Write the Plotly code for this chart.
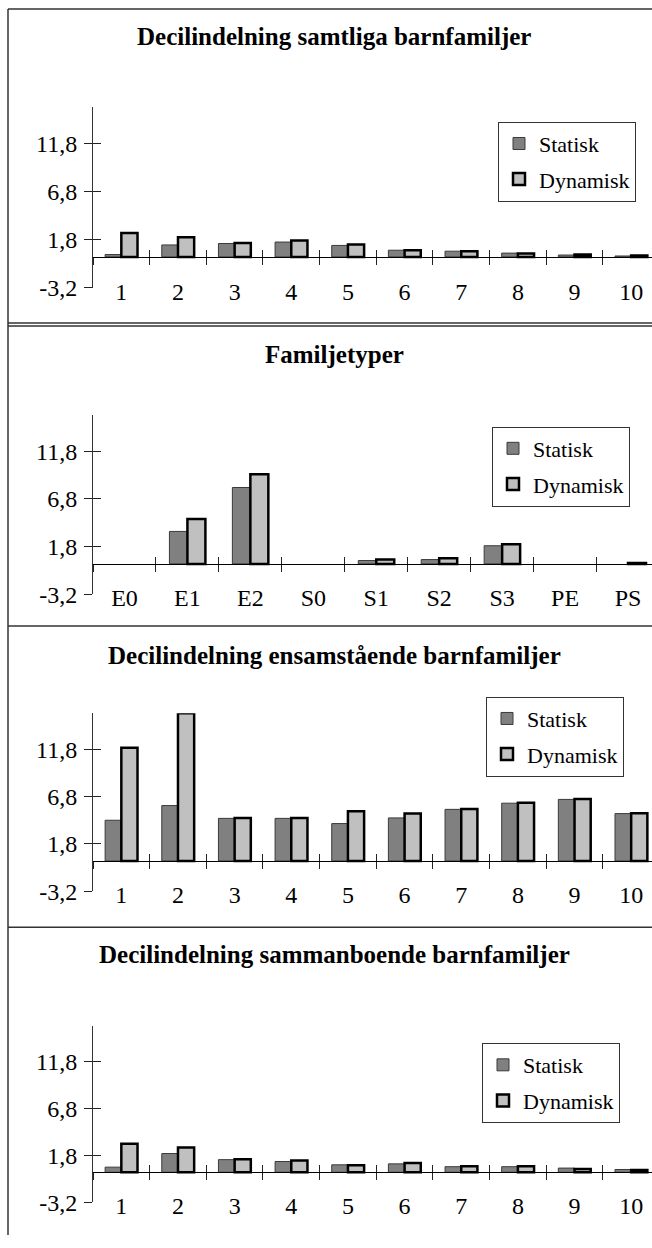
import plotly.graph_objects as go

W, H = 652, 1248

deciles = ["1", "2", "3", "4", "5", "6", "7", "8", "9", "10"]
family_types = ["E0", "E1", "E2", "S0", "S1", "S2", "S3", "PE", "PS"]

samtliga_statisk = [0.25, 1.25, 1.4, 1.55, 1.2, 0.7, 0.6, 0.4, 0.2, 0.1]
samtliga_dynamisk = [2.5, 2.05, 1.45, 1.7, 1.3, 0.7, 0.6, 0.35, 0.25, 0.15]

typer_statisk = [0, 3.4, 8.0, 0, 0.35, 0.45, 1.9, 0, 0]
typer_dynamisk = [0, 4.7, 9.4, 0, 0.45, 0.6, 2.05, 0, 0.1]

ensam_statisk = [4.3, 5.85, 4.5, 4.5, 3.95, 4.55, 5.45, 6.1, 6.5, 5.0]
ensam_dynamisk = [11.95, 15.6, 4.55, 4.55, 5.25, 5.0, 5.5, 6.15, 6.55, 5.05]

samman_statisk = [0.55, 2.0, 1.35, 1.15, 0.8, 0.9, 0.6, 0.6, 0.45, 0.3]
samman_dynamisk = [3.05, 2.65, 1.4, 1.25, 0.75, 1.0, 0.65, 0.65, 0.35, 0.25]

y_ticks = [-3.2, 1.8, 6.8, 11.8]
y_tick_labels = ["-3,2", "1,8", "6,8", "11,8"]
y_range = [-3.2, 15.6]

FONT = "Liberation Serif"
STAT_FILL, STAT_LINE = "#808080", "#3a3a3a"
DYN_FILL, DYN_LINE = "#c0c0c0", "#000000"


def fx(px):
    return px / W


def fy(px):
    return 1 - px / H


def skip_empty(values):
    # empty bars are left out so their outline does not thicken the zero line
    return [v if v else None for v in values]


# title, categories, series, plot top/bottom (px), legend corner (px), title centre (px)
panels = [
    ("Decilindelning samtliga barnfamiljer", deciles, samtliga_statisk, samtliga_dynamisk,
     108.3, 290.7, (498, 123), 37),
    ("Familjetyper", family_types, typer_statisk, typer_dynamisk,
     419.3, 600.7, (492, 431), 358),
    ("Decilindelning ensamstående barnfamiljer", deciles, ensam_statisk, ensam_dynamisk,
     720.7, 900.7, (486, 704), 662),
    ("Decilindelning sammanboende barnfamiljer", deciles, samman_statisk, samman_dynamisk,
     1036.7, 1215.0, (482, 1054), 965),
]

plot_left = 93.0
full_plot_right = 659.5  # plot area continues past the page edge

fig = go.Figure()
layout = dict(
    width=W, height=H,
    margin=dict(l=0, r=0, t=0, b=0),
    paper_bgcolor="white", plot_bgcolor="white",
    barmode="group", bargap=0.4286, bargroupgap=0,
    separators=",.",
    font=dict(family=FONT, color="black"),
    showlegend=True,
)
annotations = []
shapes = []

n_pan = len(panels)
for i, (title, cats, stat, dyn, top, bottom, leg, title_y) in enumerate(panels, start=1):
    leg_name = "legend" if i == 1 else f"legend{i}"
    xa = "x" if i == 1 else f"x{i}"
    ya = "y" if i == 1 else f"y{i}"
    fig.add_trace(go.Bar(
        x=cats, y=skip_empty(stat), name="Statisk", xaxis=xa, yaxis=ya, legend=leg_name,
        legendgroup=f"s{i}",
        marker=dict(color=STAT_FILL, line=dict(color=STAT_LINE, width=1)),
    ))
    fig.add_trace(go.Bar(
        x=cats, y=skip_empty(dyn), name="Dynamisk", xaxis=xa, yaxis=ya, legend=leg_name,
        legendgroup=f"d{i}",
        marker=dict(color=DYN_FILL, line=dict(color=DYN_LINE, width=2.5)),
    ))

    n = len(cats)
    x_end = -0.5 + n * (W - plot_left) / (full_plot_right - plot_left)
    x_range = [-0.5, x_end]
    x_dom = [fx(plot_left), 1.0]
    y_dom = [fy(bottom), fy(top)]
    zero_pos = y_dom[0] + (0 - y_range[0]) / (y_range[1] - y_range[0]) * (y_dom[1] - y_dom[0])

    sfx = "" if i == 1 else str(i)
    layout[f"xaxis{sfx}"] = dict(
        domain=x_dom, anchor=ya, type="category", categoryorder="array",
        categoryarray=cats, range=x_range, showline=False, ticks="",
        showgrid=False, zeroline=False, tickfont=dict(size=24, family=FONT),
        ticklabelstandoff=-13,
    )
    layout[f"yaxis{sfx}"] = dict(
        domain=y_dom, anchor=xa, range=y_range, tickmode="array",
        tickvals=y_ticks, ticktext=y_tick_labels,
        showline=True, linecolor="#333333", linewidth=1,
        ticks="outside", ticklen=8, tickcolor="#222222", tickwidth=1,
        showgrid=False, zeroline=False, tickfont=dict(size=24, family=FONT),
        ticklabelstandoff=2,
    )
    # category axis crossing at zero: line with ticks across it
    for j, tick_dir in enumerate(("outside", "inside")):
        k = 4 + i + j * n_pan
        layout[f"xaxis{k}"] = dict(
            domain=x_dom, overlaying=xa, anchor="free", position=zero_pos,
            type="linear", range=x_range, tickmode="linear", tick0=-0.5, dtick=1,
            ticks=tick_dir, ticklen=7, tickcolor="#222222", tickwidth=1,
            showticklabels=False, showgrid=False, zeroline=False,
            showline=(j == 0), linecolor="#000000", linewidth=1.3, layer="above traces",
        )
        fig.add_trace(go.Scatter(x=[], y=[], xaxis=f"x{k}", yaxis=ya,
                                 showlegend=False, hoverinfo="skip"))
    # value axis ticks reaching into the plot
    layout[f"yaxis{4 + i}"] = dict(
        domain=y_dom, overlaying=ya, anchor=xa, side="left", range=y_range,
        tickmode="array", tickvals=y_ticks, ticks="inside", ticklen=8,
        tickcolor="#222222", tickwidth=1, showticklabels=False,
        showgrid=False, zeroline=False, showline=False,
    )
    fig.add_trace(go.Scatter(x=[], y=[], xaxis=xa, yaxis=f"y{4 + i}",
                             showlegend=False, hoverinfo="skip"))

    layout[leg_name] = dict(
        x=fx(leg[0]), y=fy(leg[1]), xanchor="left", yanchor="top",
        bordercolor="#333333", borderwidth=1, bgcolor="white",
        font=dict(size=22, family=FONT), traceorder="grouped",
        tracegroupgap=4,
    )
    annotations.append(dict(
        text=f"<b>{title}</b>", x=fx(334), y=fy(title_y), xref="paper", yref="paper",
        xanchor="center", yanchor="middle", showarrow=False,
        font=dict(size=25, family=FONT, color="black"),
    ))

# frame around the panels
line_style = dict(color="#333333", width=1.5)
for y_px in (9, 326.5, 329.5, 632.5, 937):
    shapes.append(dict(type="line", xref="paper", yref="paper",
                       x0=fx(8), x1=1, y0=fy(y_px), y1=fy(y_px), line=line_style))
shapes.append(dict(type="line", xref="paper", yref="paper",
                   x0=fx(8), x1=fx(8), y0=fy(9), y1=0, line=line_style))

layout["annotations"] = annotations
layout["shapes"] = shapes
fig.update_layout(**layout)
fig.write_html("out.html")
